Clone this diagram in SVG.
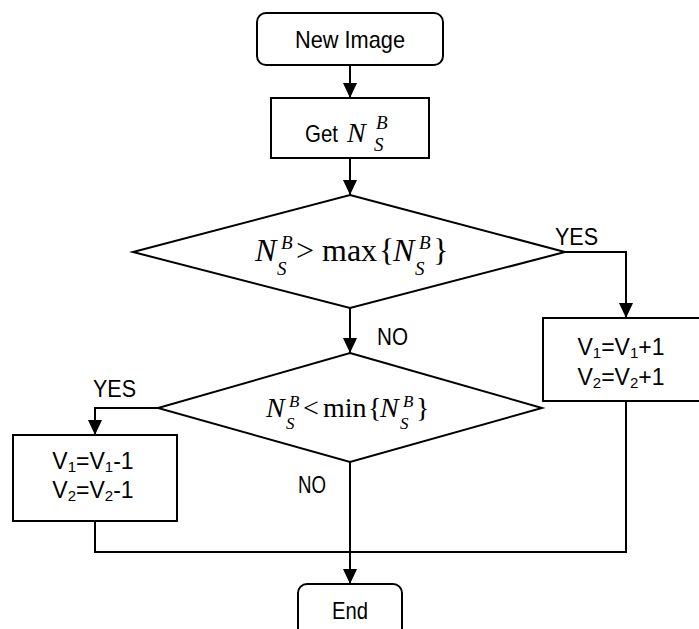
<svg xmlns="http://www.w3.org/2000/svg" width="699" height="629" viewBox="0 0 699 629">
<style>
.shape{fill:#fff;stroke:#000;stroke-width:2}
.line{fill:none;stroke:#000;stroke-width:2}
.t{font-family:"Liberation Sans",Arial,sans-serif;font-size:24px;fill:#000}
.v{font-family:"Liberation Sans",Arial,sans-serif;font-size:23px;fill:#000}
.sub{font-size:15px}
.m{font-family:"Liberation Serif","Times New Roman",serif;fill:#000}
.mi{font-family:"Liberation Serif","Times New Roman",serif;font-style:italic;fill:#000}
</style>
<defs>
<marker id="arr" markerUnits="userSpaceOnUse" markerWidth="15" markerHeight="14" refX="15" refY="7" orient="auto">
<path d="M0,0 L15,7 L0,14 z" fill="#000"/>
</marker>
</defs>
<rect width="699" height="629" fill="#fff"/>
<g id="connectors">
<polyline class="line" points="350,65 350,98" marker-end="url(#arr)"/>
<polyline class="line" points="350,158 350,195" marker-end="url(#arr)"/>
<polyline class="line" points="565,252 626,252 626,318" marker-end="url(#arr)"/>
<polyline class="line" points="350,308 350,353" marker-end="url(#arr)"/>
<polyline class="line" points="158,408 95,408 95,435" marker-end="url(#arr)"/>
<polyline class="line" points="350,462 350,584" marker-end="url(#arr)"/>
<polyline class="line" points="95,521 95,552 626,552 626,401"/>
<text class="t" x="555" y="245" textLength="43" lengthAdjust="spacingAndGlyphs">YES</text>
<text class="t" x="377" y="345" textLength="31" lengthAdjust="spacingAndGlyphs">NO</text>
<text class="t" x="93" y="397" textLength="43" lengthAdjust="spacingAndGlyphs">YES</text>
<text class="t" x="298" y="493" textLength="28" lengthAdjust="spacingAndGlyphs">NO</text>
</g>
<g id="start">
<rect class="shape" x="257" y="13" width="186" height="52" rx="9"/>
<text class="t" x="295" y="48" textLength="110" lengthAdjust="spacingAndGlyphs">New Image</text>
</g>
<g id="get">
<rect class="shape" x="271" y="98" width="158" height="60"/>
<text class="t" x="305" y="142" textLength="33" lengthAdjust="spacingAndGlyphs">Get</text>
<text class="mi" x="347" y="142" font-size="28">N</text>
<text class="mi" x="376" y="129" font-size="19">B</text>
<text class="mi" x="374" y="151" font-size="19">S</text>
</g>
<g id="decision1">
<polygon class="shape" points="350,195 565,252 350,308 133,252"/>
<text class="mi" x="255" y="261" font-size="32">N</text>
<text class="mi" x="281" y="249" font-size="19">B</text>
<text class="mi" x="277" y="275" font-size="19">S</text>
<text class="m" x="296" y="261" font-size="32">&gt;</text>
<text class="m" x="322" y="261" font-size="32">max</text>
<text class="m" x="379" y="261" font-size="32">{</text>
<text class="mi" x="393" y="261" font-size="32">N</text>
<text class="mi" x="419" y="249" font-size="19">B</text>
<text class="mi" x="415" y="275" font-size="19">S</text>
<text class="m" x="433" y="261" font-size="32">}</text>
</g>
<g id="increase">
<rect class="shape" x="543" y="318" width="170" height="83"/>
<text class="v" x="621" y="355" text-anchor="middle">V<tspan class="sub" dy="3">1</tspan><tspan dy="-3">=V</tspan><tspan class="sub" dy="3">1</tspan><tspan dy="-3">+1</tspan></text>
<text class="v" x="621" y="385" text-anchor="middle">V<tspan class="sub" dy="3">2</tspan><tspan dy="-3">=V</tspan><tspan class="sub" dy="3">2</tspan><tspan dy="-3">+1</tspan></text>
</g>
<g id="decision2">
<polygon class="shape" points="350,353 542,408 350,462 158,408"/>
<text class="mi" x="266" y="417" font-size="28">N</text>
<text class="mi" x="289" y="407" font-size="17">B</text>
<text class="mi" x="286" y="429" font-size="17">S</text>
<text class="m" x="303" y="417" font-size="28">&lt;</text>
<text class="m" x="323" y="417" font-size="28">min</text>
<text class="m" x="368" y="417" font-size="28">{</text>
<text class="mi" x="380" y="417" font-size="28">N</text>
<text class="mi" x="403" y="407" font-size="17">B</text>
<text class="mi" x="400" y="429" font-size="17">S</text>
<text class="m" x="416" y="417" font-size="28">}</text>
</g>
<g id="decrease">
<rect class="shape" x="13" y="435" width="164" height="86"/>
<text class="v" x="93" y="469" text-anchor="middle">V<tspan class="sub" dy="3">1</tspan><tspan dy="-3">=V</tspan><tspan class="sub" dy="3">1</tspan><tspan dy="-3">-1</tspan></text>
<text class="v" x="93" y="498" text-anchor="middle">V<tspan class="sub" dy="3">2</tspan><tspan dy="-3">=V</tspan><tspan class="sub" dy="3">2</tspan><tspan dy="-3">-1</tspan></text>
</g>
<g id="end">
<rect class="shape" x="298" y="584" width="104" height="60" rx="9"/>
<text class="t" x="332" y="619" textLength="36" lengthAdjust="spacingAndGlyphs">End</text>
</g>
</svg>
